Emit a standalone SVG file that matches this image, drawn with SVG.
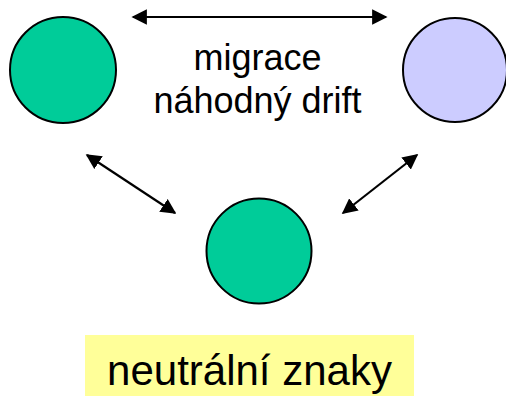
<svg xmlns="http://www.w3.org/2000/svg" width="506" height="396" viewBox="0 0 506 396">
<style>
.node{stroke:#000;stroke-width:2}
.conn{stroke:#000;stroke-width:2.2;fill:none}
.t{font-family:"Liberation Sans",Arial,sans-serif;fill:#000;text-anchor:middle}
</style>
<defs>
<marker id="ah" viewBox="0 0 10 10" refX="9" refY="5" markerWidth="7" markerHeight="7" orient="auto-start-reverse" markerUnits="strokeWidth">
<path d="M0,0 L10,5 L0,10 z" fill="#000"/>
</marker>
</defs>
<rect width="506" height="396" fill="#fff"/>
<g id="node-left"><circle class="node" cx="63" cy="70" r="53" fill="#00CC99"/></g>
<g id="node-right"><circle class="node" cx="455" cy="70" r="52" fill="#CCCCFF"/></g>
<g id="node-bottom"><circle class="node" cx="259" cy="251" r="52.5" fill="#00CC99"/></g>
<g id="connectors">
<line class="conn" x1="133" y1="17" x2="386" y2="17" marker-start="url(#ah)" marker-end="url(#ah)"/>
<line class="conn" x1="87" y1="155" x2="175" y2="213" marker-start="url(#ah)" marker-end="url(#ah)"/>
<line class="conn" x1="417" y1="155" x2="343" y2="213" marker-start="url(#ah)" marker-end="url(#ah)"/>
</g>
<g id="label-top">
<text class="t" x="257.5" y="70" font-size="36">migrace</text>
<text class="t" x="257.5" y="113" font-size="36">náhodný drift</text>
</g>
<g id="label-bottom">
<rect x="85" y="335" width="329" height="61" fill="#FFFF99"/>
<text class="t" x="249.5" y="385" font-size="42">neutrální znaky</text>
</g>
</svg>
